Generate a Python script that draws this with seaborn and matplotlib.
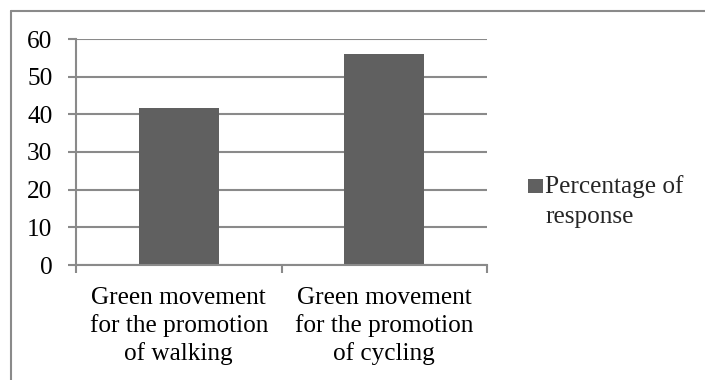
import matplotlib
matplotlib.use("Agg")
import matplotlib.pyplot as plt
import seaborn as sns
import pandas as pd
from matplotlib.patches import Rectangle
from matplotlib.lines import Line2D
from matplotlib.legend_handler import HandlerPatch

# Data
categories = [
    "Green movement\nfor the promotion\nof walking",
    "Green movement\nfor the promotion\nof cycling",
]
series_name = "Percentage of\nresponse"
values = [41.7, 56.0]
y_ticks = [0, 10, 20, 30, 40, 50, 60]

df = pd.DataFrame({"category": categories, "value": values,
                   "series": [series_name] * len(categories)})

sns.set_theme(style="white")
plt.rcParams["font.family"] = ["Liberation Serif", "DejaVu Serif"]

BAR = "#606060"
GRID = "#8a8a8a"
FS = 18.2

fig = plt.figure(figsize=(7.05, 3.8), dpi=100)
ax = fig.add_axes([76 / 705, 1 - 265 / 380, (487 - 76) / 705, (265 - 39) / 380])

sns.barplot(data=df, x="category", y="value", hue="series", palette=[BAR],
            width=0.39, dodge=False, saturation=1, ax=ax, legend=False,
            edgecolor="none", linewidth=0)

ax.set_xlim(-0.5, len(categories) - 0.5)
ax.set_ylim(0, 60)
ax.set_yticks(y_ticks)
ax.set_yticklabels([str(t) for t in y_ticks], fontsize=FS, color="black")
ax.yaxis.grid(True, color=GRID, linewidth=1.5)
ax.set_axisbelow(True)
ax.set_xlabel("")
ax.set_ylabel("")

for s in ["top", "right"]:
    ax.spines[s].set_visible(False)
for s in ["left", "bottom"]:
    ax.spines[s].set_color(GRID)
    ax.spines[s].set_linewidth(1.5)

ax.tick_params(axis="y", which="major", length=6, width=1.5, color=GRID,
               direction="out", pad=11, left=True)
ax.set_xticks(range(len(categories)))
ax.set_xticklabels(categories, fontsize=FS, color="black", linespacing=1.27)
ax.tick_params(axis="x", which="major", length=0, pad=16)
ax.set_xticks([i - 0.5 for i in range(len(categories) + 1)], minor=True)
ax.tick_params(axis="x", which="minor", length=6, width=1.5, color=GRID,
               direction="out", bottom=True)
ax.spines["left"].set_bounds(0, 60)

LEG_SPACING = 1.45


class TopAlignedSquare(HandlerPatch):
    """Square legend key aligned with the first line of a two-line label."""

    def create_artists(self, legend, orig_handle, xdescent, ydescent,
                       width, height, fontsize, trans):
        size = 10.5
        lift = 11.0
        r = Rectangle((-xdescent + width - size, -ydescent + (height - size) / 2 + lift),
                      size, size, facecolor=BAR, edgecolor="none", transform=trans)
        return [r]


handle = Rectangle((0, 0), 1, 1, facecolor=BAR)
leg = fig.legend([handle], [series_name], loc="upper left",
                 bbox_to_anchor=(515 / 705, 1 - 165 / 380), frameon=False,
                 fontsize=FS, handlelength=0.7, handletextpad=0.1,
                 handler_map={Rectangle: TopAlignedSquare()}, borderaxespad=0)
for t in leg.get_texts():
    t.set_linespacing(LEG_SPACING)

# outer chart frame
fig.add_artist(Line2D([11 / 705, 11 / 705], [0, 1 - 11 / 380], transform=fig.transFigure,
                      color=GRID, linewidth=1.5))
fig.add_artist(Line2D([11 / 705, 1], [1 - 11 / 380, 1 - 11 / 380], transform=fig.transFigure,
                      color=GRID, linewidth=1.5))

fig.savefig("out.png", dpi=100)
